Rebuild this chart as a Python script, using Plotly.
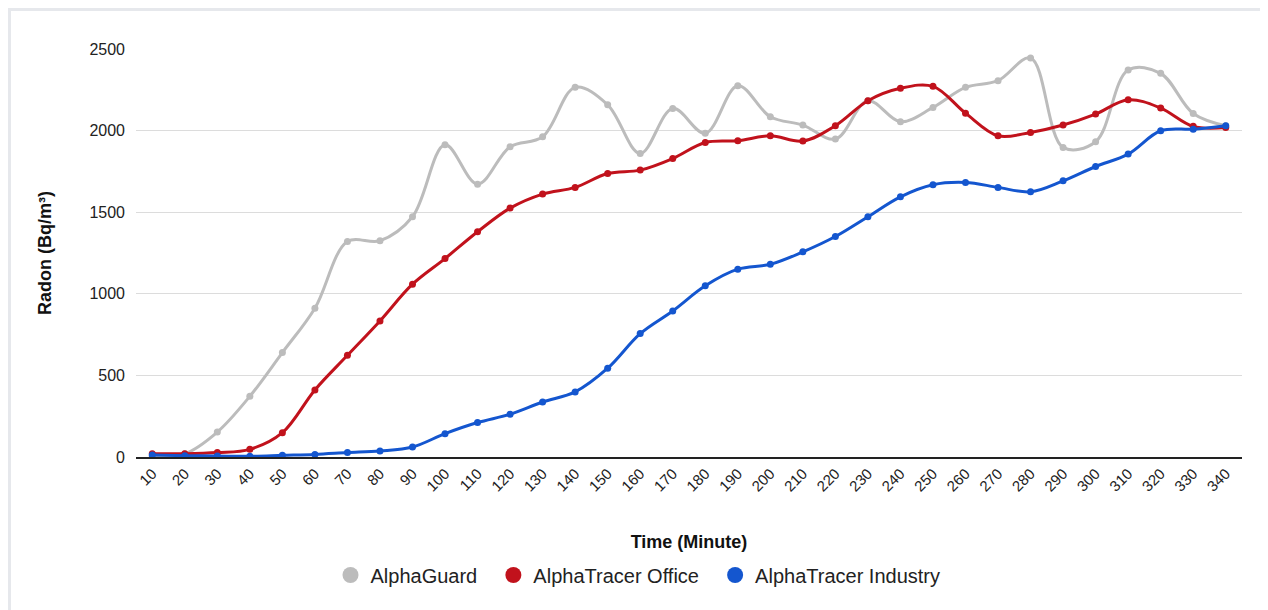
import plotly.graph_objects as go

minutes = [10, 20, 30, 40, 50, 60, 70, 80, 90, 100, 110, 120, 130, 140, 150, 160, 170,
           180, 190, 200, 210, 220, 230, 240, 250, 260, 270, 280, 290, 300, 310, 320, 330, 340]

alphaguard = [5, 20, 153, 372, 640, 912, 1320, 1325, 1472, 1913, 1672, 1901, 1962, 2265,
              2158, 1860, 2136, 1983, 2275, 2085, 2034, 1948, 2183, 2054, 2142, 2265,
              2306, 2445, 1897, 1932, 2371, 2351, 2105, 2030]
tracer_office = [20, 20, 27, 47, 149, 411, 623, 834, 1059, 1216, 1380, 1525, 1611, 1652,
                 1737, 1758, 1829, 1927, 1938, 1968, 1936, 2030, 2183, 2259, 2271, 2107,
                 1968, 1989, 2034, 2101, 2189, 2138, 2026, 2019]
tracer_industry = [12, 8, 6, 4, 10, 16, 27, 37, 61, 143, 211, 262, 337, 399, 544, 756,
                   895, 1049, 1151, 1181, 1257, 1351, 1472, 1594, 1668, 1682, 1652, 1625,
                   1692, 1780, 1856, 1999, 2009, 2030]

x_labels = [str(m) for m in minutes]
y_ticks = [0, 500, 1000, 1500, 2000, 2500]

series = [
    ("AlphaGuard", alphaguard, "#bcbcbc"),
    ("AlphaTracer Office", tracer_office, "#c1121c"),
    ("AlphaTracer Industry", tracer_industry, "#1456cf"),
]

fig = go.Figure()
for name, vals, col in series:
    fig.add_trace(go.Scatter(
        x=x_labels, y=vals, name=name, mode="lines+markers",
        line=dict(color=col, width=3, shape="spline", smoothing=1.0),
        marker=dict(color=col, size=7),
        showlegend=False, hoverinfo="x+y+name",
    ))
# legend-only entries (circle symbols, as in the reference legend)
for i, (name, vals, col) in enumerate(series):
    pad = "\u00a0\u00a0" if i < len(series) - 1 else ""
    fig.add_trace(go.Scatter(
        x=[None], y=[None], name=name + pad, mode="markers",
        marker=dict(color=col, size=16), showlegend=True, hoverinfo="skip",
    ))

# figure sits at (8, 8) in the page because of the default body margin
W, H = 1260, 602
ml, mr, mt, mb = 128, 26, 41, 153
pw, ph = W - ml - mr, H - mt - mb

fig.add_shape(type="rect", xref="paper", yref="paper",
              x0=(1.5 - ml) / pw, x1=(W + 20 - ml) / pw,
              y0=(H - mb - (H + 20)) / ph, y1=(H - mb - 1.5) / ph,
              line=dict(color="#e6e8ec", width=3), fillcolor="rgba(0,0,0,0)", layer="below")

fig.update_layout(
    width=W, height=H,
    margin=dict(l=ml, r=mr, t=mt, b=mb, autoexpand=False),
    paper_bgcolor="white", plot_bgcolor="white",
    font=dict(family="Liberation Sans, Arial, sans-serif", color="#222222", size=15),
    legend=dict(orientation="h", xref="container", yref="container", x=0.5, xanchor="center",
                y=1 - 567 / H, yanchor="middle", font=dict(size=20, color="#222222"),
                itemsizing="trace", traceorder="normal"),
    xaxis=dict(
        type="category", tickangle=-45, showgrid=False, zeroline=False,
        showline=True, linecolor="#222222", linewidth=2, ticks="",
        tickfont=dict(size=15), range=[-0.5, len(x_labels) - 0.5], automargin=False,
        title=dict(text="<b>Time (Minute)</b>", font=dict(size=18, color="#111111"), standoff=42),
    ),
    yaxis=dict(
        range=[0, 2500], tickvals=y_ticks, automargin=False,
        showgrid=True, gridcolor="#dcdcdc", gridwidth=1, zeroline=False,
        showline=False, ticks="", tickfont=dict(size=16), ticklabelstandoff=10,
        title=dict(text="<b>Radon (Bq/m³)</b>", font=dict(size=18, color="#111111"), standoff=33),
    ),
)

fig.write_html("out.html")
